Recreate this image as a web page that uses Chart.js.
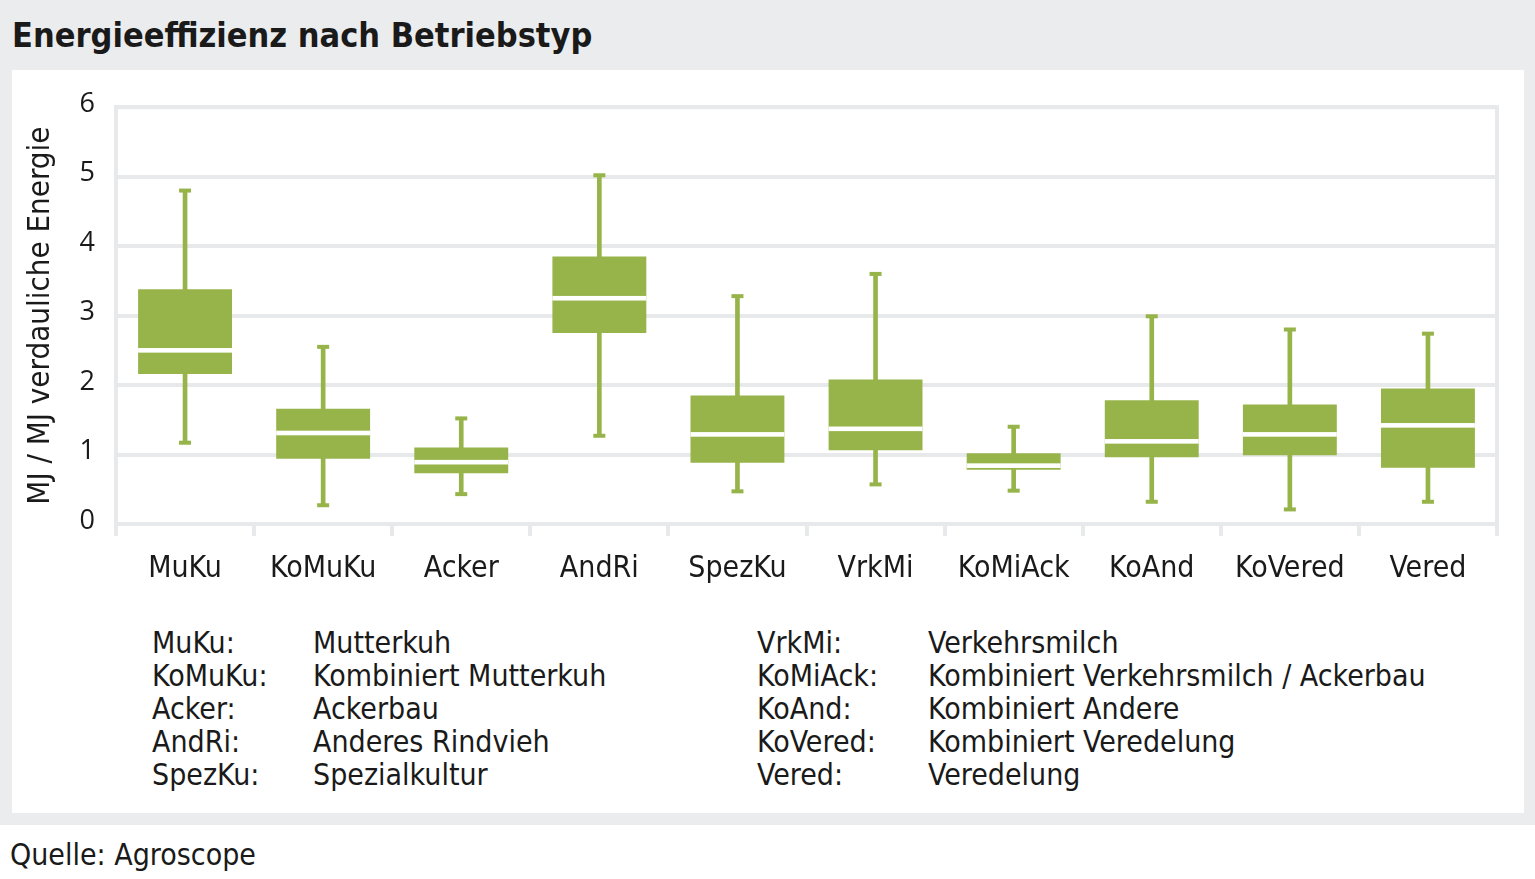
<!DOCTYPE html>
<html lang="de">
<head>
    <meta charset="UTF-8">
    <title>Energieeffizienz nach Betriebstyp</title>
    <script src="https://cdn.jsdelivr.net/npm/chart.js"></script>
    <style>
        body { margin: 0; width: 1535px; height: 879px; background: #fff; position: relative; overflow: hidden;
               font-family: "Liberation Sans Narrow", "DejaVu Sans Condensed", "Roboto Condensed", Roboto, sans-serif; color: #1a1a1a; }
        #frame { position: absolute; left: 0; top: 0; width: 1535px; height: 825px; background: #ebecee; }
        #title { position: absolute; left: 12px; top: 13px; font-size: 34px; font-weight: bold; line-height: 44px; }
        #panel { position: absolute; left: 12px; top: 70px; width: 1512px; height: 743px; background: #fff; }
        #chartBox { position: absolute; left: 0; top: 0; width: 1512px; height: 540px; }
        .legend { position: absolute; font-size: 30px; line-height: 33px; white-space: nowrap; }
        #source { position: absolute; left: 10px; top: 836px; font-size: 30px; line-height: 38px; }
    </style>
</head>
<body>
    <div id="frame"></div>
    <div id="title">Energieeffizienz nach Betriebstyp</div>
    <div id="panel">
        <div id="chartBox"><canvas id="boxChart"></canvas></div>
    </div>
    <div class="legend" id="leg1a" style="left:152px; top:626px"></div>
    <div class="legend" id="leg1b" style="left:313px; top:626px"></div>
    <div class="legend" id="leg2a" style="left:757px; top:626px"></div>
    <div class="legend" id="leg2b" style="left:928px; top:626px"></div>
    <div id="source">Quelle: Agroscope</div>

    <script>
        // Betriebstypen
        const categories = ['MuKu', 'KoMuKu', 'Acker', 'AndRi', 'SpezKu', 'VrkMi', 'KoMiAck', 'KoAnd', 'KoVered', 'Vered'];
        const names = ['Mutterkuh', 'Kombiniert Mutterkuh', 'Ackerbau', 'Anderes Rindvieh', 'Spezialkultur',
                       'Verkehrsmilch', 'Kombiniert Verkehrsmilch / Ackerbau', 'Kombiniert Andere', 'Kombiniert Veredelung', 'Veredelung'];

        // MJ / MJ verdauliche Energie
        const whiskerLow  = [1.17, 0.27, 0.43, 1.27, 0.47, 0.57, 0.48, 0.32, 0.21, 0.32];
        const quartile1   = [2.16, 0.94, 0.73, 2.75, 0.88, 1.06, 0.78, 0.96, 0.99, 0.81];
        const median      = [2.50, 1.31, 0.89, 3.25, 1.29, 1.37, 0.84, 1.19, 1.29, 1.42];
        const quartile3   = [3.38, 1.66, 1.10, 3.85, 1.85, 2.08, 1.02, 1.78, 1.72, 1.95];
        const whiskerHigh = [4.80, 2.55, 1.52, 5.02, 3.28, 3.60, 1.40, 2.99, 2.80, 2.74];

        const yTicks = [0, 1, 2, 3, 4, 5, 6];

        const green = '#97b44a';
        const gridGray = '#e8e9eb';
        const tickFont = { family: '"Open Sans", "DejaVu Sans", sans-serif', size: 27 };
        const labelFont = { family: '"Liberation Sans Narrow", "DejaVu Sans Condensed", Roboto, sans-serif', size: 30 };

        // legend text
        document.getElementById('leg1a').innerHTML = categories.slice(0, 5).map(c => c + ':').join('<br>');
        document.getElementById('leg1b').innerHTML = names.slice(0, 5).join('<br>');
        document.getElementById('leg2a').innerHTML = categories.slice(5).map(c => c + ':').join('<br>');
        document.getElementById('leg2b').innerHTML = names.slice(5).join('<br>');

        // frame round plot area, caps and median lines
        const boxExtras = {
            id: 'boxExtras',
            beforeDatasetsDraw(chart) {
                const { ctx, chartArea: a } = chart;
                ctx.save();
                ctx.strokeStyle = gridGray;
                ctx.lineWidth = 4;
                ctx.strokeRect(a.left, a.top, a.right - a.left, a.bottom - a.top);
                ctx.restore();
            },
            afterDatasetsDraw(chart) {
                const { ctx, scales: { x, y } } = chart;
                const boxes = chart.getDatasetMeta(1).data;
                ctx.save();
                categories.forEach((c, i) => {
                    const cx = x.getPixelForValue(i);
                    ctx.fillStyle = green;
                    [whiskerLow[i], whiskerHigh[i]].forEach(v => {
                        const py = y.getPixelForValue(v);
                        ctx.fillRect(cx - 6, py - 2, 12, 4);
                    });
                    const half = boxes[i].width / 2;
                    const my = y.getPixelForValue(median[i]);
                    ctx.fillStyle = '#ffffff';
                    ctx.fillRect(cx - half, my - 2.3, half * 2, 4.6);
                });
                ctx.restore();
            }
        };

        new Chart(document.getElementById('boxChart'), {
            type: 'bar',
            data: {
                labels: categories,
                datasets: [
                    {
                        label: 'Whisker',
                        data: categories.map((c, i) => [whiskerLow[i], whiskerHigh[i]]),
                        backgroundColor: green,
                        barThickness: 4,
                        grouped: false,
                        order: 2
                    },
                    {
                        label: 'Box',
                        data: categories.map((c, i) => [quartile1[i], quartile3[i]]),
                        backgroundColor: green,
                        barPercentage: 0.68,
                        categoryPercentage: 1,
                        grouped: false,
                        order: 1
                    }
                ]
            },
            options: {
                responsive: true,
                maintainAspectRatio: false,
                animation: false,
                layout: { padding: { top: 34, right: 27, left: 0, bottom: 0 } },
                plugins: { legend: { display: false }, tooltip: { enabled: false } },
                scales: {
                    x: {
                        grid: { offset: true, drawOnChartArea: false, drawTicks: true, tickLength: 12, color: gridGray, lineWidth: 4 },
                        border: { display: true, color: gridGray, width: 4 },
                        ticks: { color: '#1a1a1a', font: labelFont, padding: 15, maxRotation: 0 },
                        afterFit(scale) { scale.height = 86; }
                    },
                    y: {
                        min: 0,
                        max: 6,
                        afterBuildTicks(scale) { scale.ticks = yTicks.map(v => ({ value: v })); },
                        grid: { color: gridGray, lineWidth: 4, drawTicks: false },
                        border: { display: true, color: gridGray, width: 4 },
                        ticks: { color: '#1a1a1a', font: tickFont, padding: 21, labelOffset: -3 },
                        title: {
                            display: true,
                            text: 'MJ / MJ verdauliche Energie',
                            color: '#1a1a1a',
                            font: { family: labelFont.family, size: 31 },
                            padding: { top: 10, bottom: 0 }
                        },
                        afterFit(scale) { scale.width = 104; }
                    }
                }
            },
            plugins: [boxExtras]
        });
    </script>
</body>
</html>
